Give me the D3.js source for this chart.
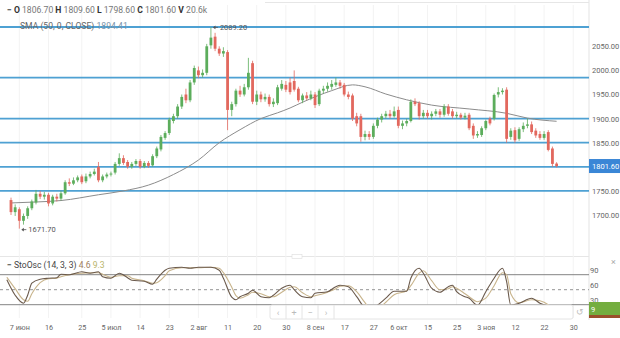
<!DOCTYPE html>
<html>
<head>
<meta charset="utf-8">
<script src="https://cdn.jsdelivr.net/npm/d3@7/dist/d3.min.js"></script>
<style>
  html, body { margin: 0; padding: 0; background: #fff; }
  svg { display: block; font-family: Roboto, "Noto Sans", sans-serif; }
</style>
</head>
<body>
<svg id="chart" width="620" height="338"></svg>
<script>
// Daily OHLC bars, oldest first
const open = [1731,1706,1712,1688,1698,1714,1726,1744,1738,1742,1724,1738,1734,1745,1768,1765,1772,1780,1770,1780,
  1785,1800,1772,1780,1784,1788,1806,1818,1810,1800,1806,1812,1800,1808,1803,1822,1836,1860,1870,1895,
  1905,1925,1950,1938,1975,2000,1990,1995,2052,2070,2045,2035,2038,1918,1930,1958,1950,1965,2015,1935,
  1950,1940,1945,1930,1932,1962,1970,1975,1978,1962,1938,1948,1942,1950,1930,1958,1962,1966,1970,1975,
  1970,1950,1948,1905,1905,1862,1868,1862,1885,1898,1905,1910,1905,1918,1885,1890,1895,1935,1932,1905,
  1912,1905,1910,1915,1908,1925,1915,1905,1908,1902,1908,1885,1865,1866,1880,1900,1900,1950,1955,1960,
  1862,1876,1858,1878,1885,1888,1875,1868,1860,1872,1838,1806.7];
const high = [1736,1722,1716,1703,1718,1732,1752,1750,1748,1746,1742,1744,1750,1772,1776,1778,1782,1784,1786,1790,
  1796,1810,1784,1788,1790,1810,1828,1824,1814,1810,1816,1816,1812,1812,1826,1842,1866,1874,1902,1910,
  1930,1950,1962,1980,2010,2008,2002,2055,2089.2,2078,2050,2048,2042,1935,1962,1968,1972,2026,2020,1958,
  1956,1952,1950,1942,1970,1980,1978,1985,2000,1966,1952,1955,1958,1955,1962,1968,1975,1980,1985,1980,
  1974,1956,1952,1912,1910,1875,1874,1890,1902,1910,1916,1918,1925,1925,1896,1900,1940,1942,1936,1918,
  1918,1915,1920,1920,1930,1930,1920,1914,1912,1912,1912,1890,1874,1884,1898,1904,1952,1965,1963,1965,
  1880,1882,1882,1892,1900,1894,1880,1874,1874,1876,1842,1809.6];
const low = [1700,1698,1671.7,1680,1692,1710,1722,1733,1732,1718,1720,1728,1730,1742,1760,1762,1768,1764,1766,1776,
  1782,1768,1768,1776,1780,1784,1802,1804,1796,1796,1802,1796,1797,1798,1800,1818,1832,1856,1866,1890,
  1900,1920,1932,1934,1970,1984,1985,1990,2045,2040,2030,2028,1876,1905,1925,1945,1946,1960,1930,1928,
  1934,1935,1925,1924,1928,1958,1955,1950,1956,1934,1932,1938,1938,1922,1926,1952,1956,1960,1966,1962,
  1946,1940,1895,1884,1852,1855,1856,1858,1880,1892,1900,1900,1902,1880,1878,1884,1892,1926,1898,1900,
  1900,1898,1905,1902,1904,1906,1900,1900,1898,1898,1876,1858,1860,1862,1876,1886,1896,1944,1950,1850,
  1856,1850,1854,1872,1880,1868,1860,1856,1856,1832,1800,1798.6];
const close = [1706,1716,1688,1698,1714,1728,1744,1738,1742,1724,1738,1734,1745,1768,1765,1772,1778,1768,1780,1785,
  1790,1772,1780,1784,1786,1806,1818,1808,1800,1806,1812,1800,1808,1802,1822,1838,1862,1870,1898,1905,
  1925,1945,1938,1975,2005,1990,1995,2050,2068,2045,2035,2040,1918,1930,1958,1950,1965,1995,1935,1950,
  1940,1945,1930,1935,1965,1972,1960,1955,1960,1938,1948,1942,1950,1928,1958,1962,1968,1972,1975,1968,
  1950,1945,1900,1890,1862,1868,1862,1885,1898,1905,1910,1905,1915,1885,1890,1895,1935,1930,1905,1912,
  1905,1910,1915,1908,1925,1910,1905,1908,1902,1906,1880,1865,1868,1880,1895,1890,1949,1955,1958,1858,
  1875,1855,1878,1885,1888,1872,1865,1860,1868,1835,1806,1801.6];

// SMA(50) readings at selected bar positions
const smaIndex = [0, 6, 12, 21, 27, 33, 39, 45, 50, 55, 60, 64, 67, 70, 77, 82, 85, 90, 95, 101, 110, 119, 124, 131];
const smaValue = [1725, 1727, 1730, 1742, 1750, 1762, 1784, 1814, 1850, 1877, 1900, 1912, 1922, 1934, 1958, 1970, 1966, 1951, 1939, 1928, 1920, 1911, 1901, 1894.41];

// Stochastic oscillator (14,3,3)
const stochIndex = [-1,1,3,4,5,7,9,11,12,14,17,19,21,22,24,26,28,29,32,34,35,37,38,41,43,45,48,50,51,53,54,55,57,58,60,62,63,65,67,68,
  70,72,73,76,78,79,81,83,85,86,88,90,92,95,96,98,99,101,103,105,106,107,109,110,112,114,116,118,119,120,122,125,127,129,130,131];
const stochK = [70,39,23,39,63,71,73,74,81,80,86,83,86,76,73,83,74,69,67,61,71,89,93,95,93,95,95,89,73,35,30,36,43,49,36,34,39,53,59,50,
  36,34,43,46,56,59,56,36,13,9,19,33,47,47,73,93,83,53,45,56,59,46,36,33,19,46,73,93,66,19,23,33,23,16,8,4.6];
const stochD = [75,52,30,27,42,64,72,73,76,80,83,84,84,81,75,78,78,73,68,63,64,78,88,94,94,94,95,93,84,55,38,33,40,45,42,36,36,45,55,56,
  44,36,38,45,52,57,58,46,24,15,13,25,40,48,58,83,88,68,50,52,56,53,42,36,26,33,58,84,80,42,24,30,28,20,13,9.3];

// Horizontal support / resistance levels
const levels = [2090, 1985, 1900, 1850, 1800, 1750];

// Price axis ticks and date ticks
const priceTicks = [1700, 1750, 1800, 1850, 1900, 1950, 2000, 2050];
const stochTicks = [30, 60, 90];
const stochBands = [80, 20];
const dateTickIndex = [2, 9, 17, 24, 31, 38, 45, 52, 59, 66, 73, 80, 87, 93, 100, 107, 114, 121, 128, 135];
const dateTickLabel = ["7 июн","16","25","5 июл","14","23","2 авг","11","20","30","8 сен","17","27","6 окт","15","25","3 ноя","12","22","30"];

const last = { o: 1806.70, h: 1809.60, l: 1798.60, c: 1801.60, v: "20.6k" };

const svg = d3.select("#chart");
const axisX = 589;

const x = d3.scaleLinear().domain([0, close.length - 1]).range([11, 556.6]);
const y = d3.scaleLinear().domain([1700, 2050]).range([215, 46.3]);
const ys = d3.scaleLinear().domain([0, 100]).range([314.7, 264.7]);

const UP = "#5cad5c", DOWN = "#e2685e";

// panel frames
svg.append("line").attr("x1", axisX).attr("x2", axisX).attr("y1", 0).attr("y2", 320)
  .attr("stroke", "#e3e3e3");
svg.append("line").attr("x1", 265).attr("x2", axisX).attr("y1", 2.5).attr("y2", 2.5)
  .attr("stroke", "#e6e6e6");
svg.append("line").attr("x1", 0).attr("x2", axisX).attr("y1", 256.5).attr("y2", 256.5)
  .attr("stroke", "#e6e6e6");
svg.append("rect").attr("x", 292).attr("y", 254.5).attr("width", 10).attr("height", 4)
  .attr("fill", "#fff").attr("stroke", "#ddd").attr("stroke-width", 0.6);

// faint vertical grid at date ticks
svg.append("g").selectAll("line").data(dateTickIndex).join("line")
  .attr("x1", d => x(d)).attr("x2", d => x(d)).attr("y1", 5).attr("y2", 318)
  .attr("stroke", "#f3f3f3");

// support / resistance levels
svg.append("g").selectAll("line").data(levels).join("line")
  .attr("x1", 0).attr("x2", axisX).attr("y1", d => y(d)).attr("y2", d => y(d))
  .attr("stroke", "#3f9ad0").attr("stroke-width", 1.8).attr("opacity", 0.92);

// SMA line
const smaPts = smaIndex.map((d, k) => [d, smaValue[k]]);
svg.append("path").datum(smaPts)
  .attr("d", d3.line().x(d => x(d[0])).y(d => y(d[1])).curve(d3.curveMonotoneX))
  .attr("fill", "none").attr("stroke", "#8c8c8c").attr("stroke-width", 1);

// candles
const bars = close.map((c, i) => ({ i, o: open[i], h: high[i], l: low[i], c }));
const cg = svg.append("g");
cg.selectAll("line").data(bars).join("line")
  .attr("x1", d => x(d.i)).attr("x2", d => x(d.i))
  .attr("y1", d => y(d.h)).attr("y2", d => y(d.l))
  .attr("stroke", d => d.c >= d.o ? UP : DOWN).attr("stroke-width", 0.8);
cg.selectAll("rect").data(bars).join("rect")
  .attr("x", d => x(d.i) - 1.4).attr("width", 2.8)
  .attr("y", d => y(Math.max(d.o, d.c)))
  .attr("height", d => Math.max(1, Math.abs(y(d.o) - y(d.c))))
  .attr("fill", d => d.c >= d.o ? UP : DOWN);

// extreme markers
const hiIdx = high.indexOf(d3.max(high));
const loIdx = low.indexOf(d3.min(low));
function marker(i, v, dy) {
  const g = svg.append("g").attr("font-size", 7.5).attr("fill", "#555");
  g.append("line").attr("x1", x(i) + 3).attr("x2", x(i) + 7).attr("y1", y(v) + dy).attr("y2", y(v) + dy)
    .attr("stroke", "#555").attr("stroke-width", 0.8);
  g.append("path").attr("d", `M${x(i) + 2},${y(v) + dy} l2.5,-1.8 v3.6 z`).attr("fill", "#555");
  g.append("text").attr("x", x(i) + 9).attr("y", y(v) + dy + 2.7).text(d3.format(".2f")(v));
}
marker(hiIdx, high[hiIdx], 0);
marker(loIdx, low[loIdx], 1);

// price axis
const pa = svg.append("g").attr("transform", `translate(${axisX},0)`)
  .call(d3.axisRight(y).tickValues(priceTicks).tickFormat(d3.format(".2f")).tickSize(0).tickPadding(3));
pa.select(".domain").remove();
pa.selectAll("text").attr("font-size", 7.5).attr("fill", "#666").attr("font-family", "Roboto, sans-serif");

// last price tag
const tag = svg.append("g");
tag.append("rect").attr("x", axisX).attr("y", y(last.c) - 7).attr("width", 31).attr("height", 14)
  .attr("fill", "#3a86d6");
tag.append("text").attr("x", axisX + 3).attr("y", y(last.c) + 2.8).attr("font-size", 7.5)
  .attr("fill", "#fff").text(d3.format(".2f")(last.c));

// header legend
const hdr = svg.append("text").attr("x", 7).attr("y", 13).attr("font-size", 8.6).attr("fill", "#777");
hdr.append("tspan").attr("font-weight", "bold").attr("fill", "#333").text("−  O ");
hdr.append("tspan").text(d3.format(".2f")(last.o) + "  ");
hdr.append("tspan").attr("font-weight", "bold").attr("fill", "#333").text("H ");
hdr.append("tspan").text(d3.format(".2f")(last.h) + "  ");
hdr.append("tspan").attr("font-weight", "bold").attr("fill", "#333").text("L ");
hdr.append("tspan").text(d3.format(".2f")(last.l) + "  ");
hdr.append("tspan").attr("font-weight", "bold").attr("fill", "#333").text("C ");
hdr.append("tspan").text(d3.format(".2f")(last.c) + "  ");
hdr.append("tspan").attr("font-weight", "bold").attr("fill", "#333").text("V ");
hdr.append("tspan").text(last.v);

const smaLbl = svg.append("text").attr("x", 20).attr("y", 29).attr("font-size", 8.6).attr("fill", "#666");
smaLbl.append("tspan").text("SMA (50, 0, CLOSE) ");
smaLbl.append("tspan").attr("fill", "#7a93a8").text(d3.format(".2f")(smaValue[smaValue.length - 1]));

// stochastic panel
svg.append("g").selectAll("line").data(stochBands).join("line")
  .attr("x1", 0).attr("x2", axisX).attr("y1", d => ys(d)).attr("y2", d => ys(d))
  .attr("stroke", "#777").attr("stroke-width", 0.9);
svg.append("line").attr("x1", 0).attr("x2", axisX).attr("y1", ys(50)).attr("y2", ys(50))
  .attr("stroke", "#888").attr("stroke-width", 0.9).attr("stroke-dasharray", "3,3");

const sline = d3.line().x(d => x(d[0])).y(d => ys(d[1])).curve(d3.curveMonotoneX);
svg.append("path").datum(stochIndex.map((d, k) => [d, stochD[k]]))
  .attr("d", sline).attr("fill", "none").attr("stroke", "#c8b48c").attr("stroke-width", 1.1);
svg.append("path").datum(stochIndex.map((d, k) => [d, stochK[k]]))
  .attr("d", sline).attr("fill", "none").attr("stroke", "#6b5a4c").attr("stroke-width", 1.1);

const sa = svg.append("g").attr("transform", `translate(${axisX},0)`)
  .call(d3.axisRight(ys).tickValues(stochTicks).tickSize(0).tickPadding(1));
sa.select(".domain").remove();
sa.selectAll("text").attr("font-size", 7.5).attr("fill", "#666").attr("font-family", "Roboto, sans-serif");

const stl = svg.append("text").attr("x", 7).attr("y", 268).attr("font-size", 8.6).attr("fill", "#444");
stl.append("tspan").attr("font-weight", "bold").text("− ");
stl.append("tspan").text("StoOsc (14, 3, 3) ");
stl.append("tspan").attr("fill", "#a08060").text(stochK[stochK.length - 1] + " ");
stl.append("tspan").attr("fill", "#b9b46a").text(stochD[stochD.length - 1]);

svg.append("text").attr("x", 611).attr("y", 265).attr("font-size", 9).attr("fill", "#aaa").text("×");

// oscillator value tags
svg.append("rect").attr("x", axisX).attr("y", 302).attr("width", 31).attr("height", 13).attr("fill", "#74ad3f");
svg.append("rect").attr("x", axisX).attr("y", 315).attr("width", 31).attr("height", 3).attr("fill", "#9b4f2c");
svg.append("text").attr("x", axisX + 2).attr("y", 311.5).attr("font-size", 7.5).attr("fill", "#fff")
  .text(String(Math.floor(stochD[stochD.length - 1])));

// navigation strip
const nav = svg.append("g");
nav.append("rect").attr("x", 270).attr("y", 305).attr("width", 303).attr("height", 14)
  .attr("fill", "#fff").attr("stroke", "#e4e4e4").attr("rx", 2);
["‹", "+", "−", "›"].forEach((s, k) => {
  nav.append("line").attr("x1", 286 + k * 16).attr("x2", 286 + k * 16).attr("y1", 305).attr("y2", 319)
    .attr("stroke", "#e4e4e4");
  nav.append("text").attr("x", 278 + k * 16).attr("y", 315.5).attr("font-size", 9)
    .attr("text-anchor", "middle").attr("fill", "#bbb").text(s);
});
nav.append("text").attr("x", 580).attr("y", 315).attr("font-size", 9).attr("text-anchor", "middle")
  .attr("fill", "#bbb").text("↺");

// date axis
const da = svg.append("g").attr("transform", "translate(0,322)")
  .call(d3.axisBottom(x).tickValues(dateTickIndex).tickFormat((d, k) => dateTickLabel[k]).tickSize(0).tickPadding(3));
da.select(".domain").remove();
da.selectAll("text").attr("font-size", 7.2).attr("fill", "#666").attr("font-family", "Roboto, sans-serif");
</script>
</body>
</html>
